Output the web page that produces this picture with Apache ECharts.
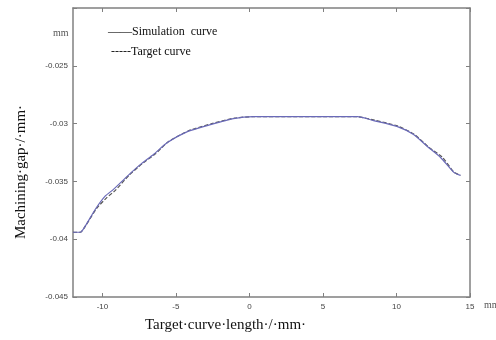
<!DOCTYPE html>
<html>
<head>
  <meta charset="utf-8">
  <script src="https://cdn.jsdelivr.net/npm/echarts@6/dist/echarts.min.js"></script>
  <style>
    html, body { margin: 0; padding: 0; background: #fff; }
    #chart { width: 496px; height: 340px; }
  </style>
</head>
<body>
  <div id="chart"></div>
  <script>
    // curve values (x in mm, gap in mm)
    const simX = [-12, -11.5, -11.16, -10.48, -9.8, -9.25, -8.3, -7.41, -6.53, -5.58, -4.22, -2.65, -1.09, 0.27, 3, 5, 7.35, 8.44, 10.07, 11.16, 12.1, 13.0, 13.9, 14.35];
    const simY = [-0.0394, -0.0394, -0.03885, -0.03741, -0.03626, -0.03569, -0.03454, -0.03353, -0.03267, -0.03164, -0.03069, -0.03009, -0.02957, -0.0294, -0.0294, -0.0294, -0.0294, -0.02974, -0.03026, -0.03095, -0.03198, -0.03293, -0.03422, -0.03448];
    const tgtX = [-12, -11.5, -11.1, -10.4, -9.7, -9.1, -8.2, -7.3, -6.4, -5.5, -4.1, -2.5, -1.0, 0.3, 3, 5, 7.3, 8.5, 10.1, 11.2, 12.2, 13.1, 13.9, 14.35];
    const tgtY = [-0.0394, -0.0394, -0.03875, -0.03735, -0.03640, -0.03575, -0.03448, -0.03348, -0.03262, -0.03155, -0.03060, -0.02998, -0.02952, -0.0294, -0.0294, -0.0294, -0.0294, -0.02970, -0.03022, -0.03092, -0.03204, -0.03288, -0.03418, -0.03448];
    const xTicks = [-10, -5, 0, 5, 10, 15];

    const toPairs = (xs, ys) => xs.map((x, i) => [x, ys[i]]);
    const axisColor = '#808080';
    const labelStyle = { color: '#444', fontSize: 8, fontFamily: 'Liberation Sans' };

    let myChart = echarts.init(document.getElementById('chart'));
    let option = {
      backgroundColor: '#fff',
      animation: false,
      grid: { left: 73, right: 26, top: 8, bottom: 43 },
      xAxis: [{
        type: 'value', min: -12, max: 15,
        axisLine: { onZero: false, lineStyle: { color: axisColor, width: 1.5 } },
        axisTick: { inside: true, length: 4, customValues: xTicks, lineStyle: { color: axisColor } },
        axisLabel: { customValues: xTicks, margin: 6, ...labelStyle },
        splitLine: { show: false }
      }, {
        type: 'value', min: -12, max: 15, position: 'top',
        axisLine: { onZero: false, lineStyle: { color: axisColor, width: 1.5 } },
        axisTick: { inside: true, length: 4, customValues: xTicks, lineStyle: { color: axisColor } },
        axisLabel: { show: false },
        splitLine: { show: false }
      }],
      yAxis: [{
        type: 'value', min: -0.045, max: -0.02, interval: 0.005,
        axisLine: { show: true, onZero: false, lineStyle: { color: axisColor, width: 1.5 } },
        axisTick: { show: true, inside: true, length: 4, lineStyle: { color: axisColor } },
        axisLabel: {
          margin: 5, ...labelStyle,
          formatter: v => Math.abs(v + 0.02) < 1e-6 ? '' : String(parseFloat(v.toFixed(3)))
        },
        splitLine: { show: false }
      }, {
        type: 'value', min: -0.045, max: -0.02, interval: 0.005, position: 'right',
        axisLine: { show: true, onZero: false, lineStyle: { color: axisColor, width: 1.5 } },
        axisTick: { show: true, inside: true, length: 4, lineStyle: { color: axisColor } },
        axisLabel: { show: false },
        splitLine: { show: false }
      }],
      series: [{
        name: 'Target curve', type: 'line', data: toPairs(tgtX, tgtY),
        smooth: 0.2, symbol: 'none',
        lineStyle: { color: '#555', width: 1.2, type: [4, 2] }
      }, {
        name: 'Simulation curve', type: 'line', data: toPairs(simX, simY),
        smooth: 0.2, symbol: 'none',
        lineStyle: { color: '#6a6ab8', width: 1.2 }
      }],
      graphic: [
        { type: 'text', left: 53, top: 28, style: { text: 'mm', fill: '#555', font: '10px "Liberation Serif"' } },
        { type: 'text', left: 108, top: 26, style: { text: '——Simulation  curve', fill: '#111', font: '12px "Liberation Serif"' } },
        { type: 'text', left: 111, top: 46, style: { text: '-----Target curve', fill: '#111', font: '12px "Liberation Serif"' } },
        { type: 'text', left: 484, top: 300, style: { text: 'mm', fill: '#555', font: '10px "Liberation Serif"' } },
        { type: 'text', left: 145, top: 318, style: { text: 'Target·curve·length·/·mm·', fill: '#111', font: '15px "Liberation Serif"' } },
        {
          type: 'text', x: 21, y: 172, rotation: Math.PI / 2,
          style: { text: 'Machining·gap·/·mm·', fill: '#111', font: '15px "Liberation Serif"', align: 'center', verticalAlign: 'middle' }
        }
      ]
    };
    myChart.setOption(option);
  </script>
</body>
</html>
